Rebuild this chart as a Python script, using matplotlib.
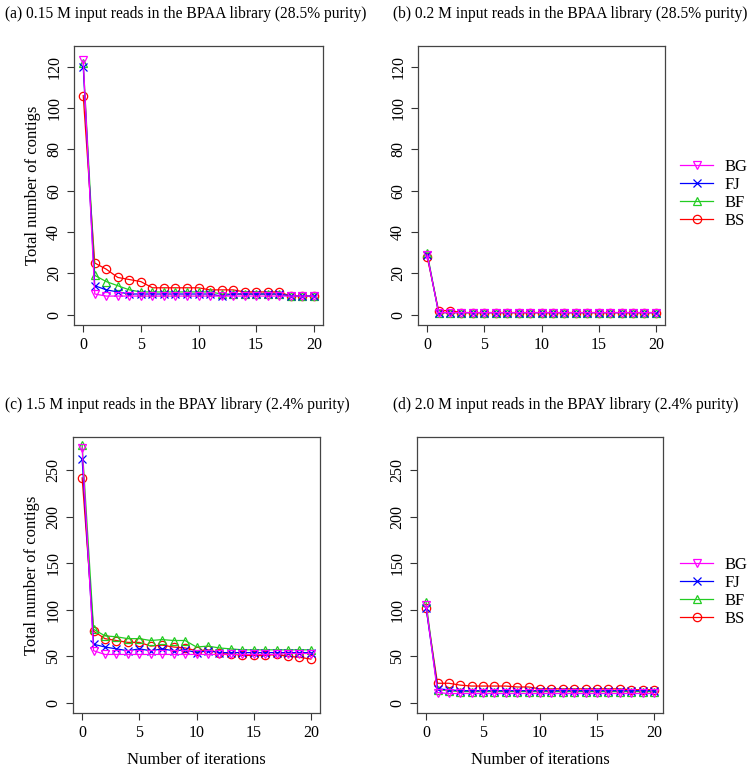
import matplotlib
matplotlib.use('Agg')
import matplotlib.pyplot as plt
from matplotlib.lines import Line2D

plt.rcParams['font.family'] = ['Liberation Serif', 'DejaVu Serif']

iterations = list(range(21))
methods = ['BG', 'FJ', 'BF', 'BS']
colors = {'BG': '#FF00FF', 'FJ': '#0000FF', 'BF': '#22CC22', 'BS': '#FF0000'}
markers = {'BG': 'v', 'FJ': 'x', 'BF': '^', 'BS': 'o'}

titles = [
    '(a) 0.15 M input reads in the BPAA library (28.5% purity)',
    '(b) 0.2 M input reads in the BPAA library (28.5% purity)',
    '(c) 1.5 M input reads in the BPAY library (2.4% purity)',
    '(d) 2.0 M input reads in the BPAY library (2.4% purity)',
]

# panel (a)
a_BG = [123, 10, 9, 9, 9, 9, 9, 9, 9, 9, 9, 9, 9, 9, 9, 9, 9, 9, 9, 9, 9]
a_FJ = [120, 14, 12, 11, 10, 10, 10, 10, 10, 10, 10, 10, 9, 10, 10, 10, 10, 10, 9, 9, 9]
a_BF = [122, 19, 16, 14, 12, 11, 11, 11, 11, 11, 11, 11, 10, 10, 10, 10, 10, 10, 9, 9, 9]
a_BS = [106, 25, 22, 18, 17, 16, 13, 13, 13, 13, 13, 12, 12, 12, 11, 11, 11, 11, 9, 9, 9]

# panel (b)
b_BG = [29, 1, 1, 1, 1, 1, 1, 1, 1, 1, 1, 1, 1, 1, 1, 1, 1, 1, 1, 1, 1]
b_FJ = [29, 1, 1, 1, 1, 1, 1, 1, 1, 1, 1, 1, 1, 1, 1, 1, 1, 1, 1, 1, 1]
b_BF = [30, 1, 1, 1, 1, 1, 1, 1, 1, 1, 1, 1, 1, 1, 1, 1, 1, 1, 1, 1, 1]
b_BS = [28, 2, 2, 1, 1, 1, 1, 1, 1, 1, 1, 1, 1, 1, 1, 1, 1, 1, 1, 1, 1]

# panel (c)
c_BG = [274, 56, 52, 52, 52, 52, 52, 52, 52, 52, 52, 52, 52, 52, 52, 52, 52, 52, 53, 53, 53]
c_FJ = [262, 63, 60, 58, 56, 58, 56, 58, 56, 57, 54, 56, 54, 54, 54, 54, 54, 54, 54, 54, 54]
c_BF = [277, 79, 72, 71, 69, 69, 67, 68, 67, 67, 60, 61, 59, 58, 57, 57, 57, 57, 57, 57, 57]
c_BS = [242, 77, 69, 67, 65, 65, 61, 62, 60, 59, 56, 57, 54, 53, 51, 51, 51, 52, 50, 49, 47]

# panel (d)
d_BG = [105, 11, 10, 10, 10, 10, 10, 10, 10, 10, 10, 10, 10, 10, 10, 10, 10, 10, 10, 10, 10]
d_FJ = [102, 15, 14, 13, 13, 13, 13, 13, 13, 13, 13, 13, 13, 13, 13, 13, 13, 13, 13, 13, 13]
d_BF = [108, 14, 13, 12, 12, 12, 12, 12, 12, 12, 12, 12, 12, 12, 12, 12, 12, 12, 12, 12, 12]
d_BS = [102, 21, 21, 19, 18, 18, 18, 18, 17, 17, 15, 15, 15, 15, 15, 15, 15, 15, 14, 14, 14]

panels = [
    {'BG': a_BG, 'FJ': a_FJ, 'BF': a_BF, 'BS': a_BS},
    {'BG': b_BG, 'FJ': b_FJ, 'BF': b_BF, 'BS': b_BS},
    {'BG': c_BG, 'FJ': c_FJ, 'BF': c_BF, 'BS': c_BS},
    {'BG': d_BG, 'FJ': d_FJ, 'BF': d_BF, 'BS': d_BS},
]

W, H = 755, 771
fig = plt.figure(figsize=(W / 100, H / 100), dpi=100)

# pixel boxes: left, right, top, bottom
boxes = [(74, 323, 46, 325), (418, 665, 46, 325),
         (73, 320, 437, 713), (417, 663, 437, 713)]
ylims = [(-5, 130), (-5, 130), (-11, 286), (-11, 286)]
yticks = [range(0, 121, 20), range(0, 121, 20), range(0, 251, 50), range(0, 251, 50)]
title_x = [5, 393, 5, 393]

for i, (l, r, t, b) in enumerate(boxes):
    ax = fig.add_axes([l / W, 1 - b / H, (r - l) / W, (b - t) / H])
    for m in ['BS', 'BF', 'FJ', 'BG']:
        ax.plot(iterations, panels[i][m], color=colors[m], marker=markers[m],
                markersize=6, markerfacecolor='none', markeredgewidth=0.9,
                linewidth=0.9)
    ax.set_xlim(-0.8, 20.8)
    ax.set_ylim(*ylims[i])
    ax.set_xticks(range(0, 21, 5))
    ax.set_yticks(list(yticks[i]))
    ax.tick_params(direction='out', length=5, width=0.8, labelsize=11.5,
                   colors='#333333', labelcolor='black')
    for lbl in ax.get_yticklabels():
        lbl.set_rotation(90)
        lbl.set_va('center')
    for s in ax.spines.values():
        s.set_color('#444444')
        s.set_linewidth(0.9)
    fig.text(title_x[i] / W, 1 - (14 if i < 2 else 405) / H, titles[i],
             fontsize=11.2, ha='left', va='center')
    if i % 2 == 0:
        ax.set_ylabel('Total number of contigs', fontsize=12, labelpad=4)
    if i >= 2:
        ax.set_xlabel('Number of iterations', fontsize=12, labelpad=8)

handles = [Line2D([], [], color=colors[m], marker=markers[m], markersize=6,
                  markerfacecolor='none', markeredgewidth=0.9, linewidth=0.9)
           for m in methods]
for yc in [194, 592]:
    fig.legend(handles, methods, loc='center left',
               bbox_to_anchor=(680 / W, 1 - yc / H), frameon=False,
               fontsize=12, handlelength=2.0, labelspacing=0.12,
               handletextpad=0.7, borderpad=0, borderaxespad=0)

fig.savefig('out.png', dpi=100)
